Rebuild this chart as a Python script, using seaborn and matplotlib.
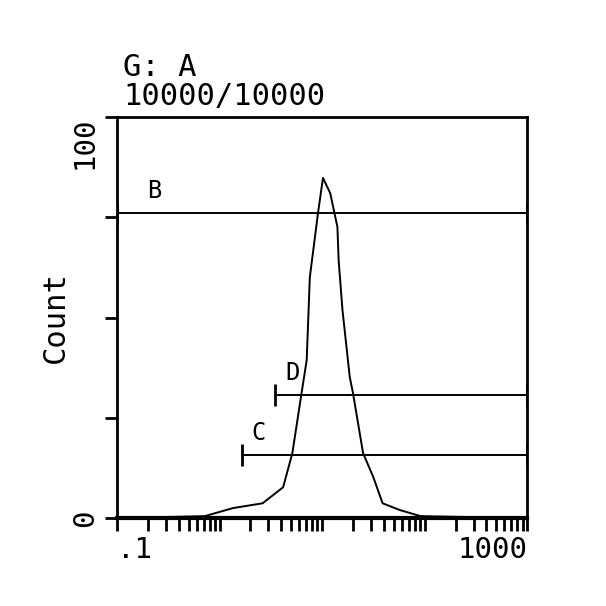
import seaborn as sns
import matplotlib
matplotlib.use('Agg')
import matplotlib.pyplot as plt
from matplotlib.ticker import LogLocator, NullFormatter, FixedLocator

# histogram (fluorescence, count)
fluor = [0.1, 0.72, 1.35, 2.63, 4.17, 5.13, 6.31, 7.08, 7.59, 9.12, 10.2, 12.0,
         14.1, 14.5, 15.8, 18.6, 20.0, 25.1, 31.6, 38.9, 57.5, 91.2, 1000]
count = [0, 0.5, 2.5, 3.7, 7.7, 16.2, 31.2, 39.4, 60, 76, 84.8, 81,
         72.6, 64.3, 51.9, 35.2, 31.2, 16.2, 10.2, 3.7, 2.0, 0.5, 0]

# marker gates
gate_names = ["B", "D", "C"]
gate_start = [0.1, 3.5, 1.66]
gate_end = [1000, 1000, 1000]
gate_level = [76, 30.7, 15.7]
gate_label_x = [0.23, 5.2, 2.4]

y_ticks = [0, 25, 50, 75, 100]
y_labels = ["0", "", "", "", "100"]
x_ticks = [0.1, 1000]
x_labels = [".1", "1000"]

sns.set_style("white")
plt.rcParams['font.family'] = ['DejaVu Sans Mono']
plt.rcParams.update({"text.color": "black", "axes.labelcolor": "black",
                     "xtick.color": "black", "ytick.color": "black"})

fig = plt.figure(figsize=(6.06, 6.06), dpi=100)
ax = fig.add_axes([0.193, 0.145, 0.677, 0.662])

sns.lineplot(x=fluor, y=count, ax=ax, color="black", linewidth=1.4)

for name, x0, x1, lvl, lx in zip(gate_names, gate_start, gate_end, gate_level, gate_label_x):
    ax.plot([x0, x1], [lvl, lvl], color="black", linewidth=1.4)
    ax.plot([x0, x1], [lvl, lvl], linestyle="none", marker="|", markersize=16,
            markeredgewidth=2, color="black")
    ax.text(lx, lvl + 2.5, name, fontsize=17, ha="center", va="bottom")

ax.set_xscale("log")
ax.set_xlim(0.1, 1000)
ax.set_ylim(0, 100)

ax.xaxis.set_major_locator(FixedLocator(x_ticks))
ax.set_xticklabels(x_labels, fontsize=21)
xl = ax.get_xticklabels()
xl[0].set_ha("left")
xl[1].set_ha("right")
ax.xaxis.set_minor_locator(LogLocator(base=10, subs=range(1, 10), numticks=20))
ax.xaxis.set_minor_formatter(NullFormatter())
ax.tick_params(axis="x", which="both", direction="out", length=9, width=2,
               bottom=True, pad=4)

ax.set_yticks(y_ticks)
ax.set_yticklabels(y_labels, fontsize=21, rotation=90)
yl = ax.get_yticklabels()
yl[0].set_va("center")
yl[-1].set_va("top")
ax.tick_params(axis="y", which="major", direction="out", length=9, width=2,
               left=True, pad=4)

ax.set_xlabel("")
ax.set_ylabel("Count", fontsize=22)
ax.yaxis.set_label_coords(-0.115, 0.5)

for s in ax.spines.values():
    s.set_color("black")
    s.set_linewidth(2)
ax.spines["bottom"].set_linewidth(3)

fig.text(0.203, 0.888, "G: A", fontsize=22, va="center", ha="left")
fig.text(0.203, 0.840, "10000/10000", fontsize=22, va="center", ha="left")

fig.savefig("out.png", dpi=100, facecolor="white")
